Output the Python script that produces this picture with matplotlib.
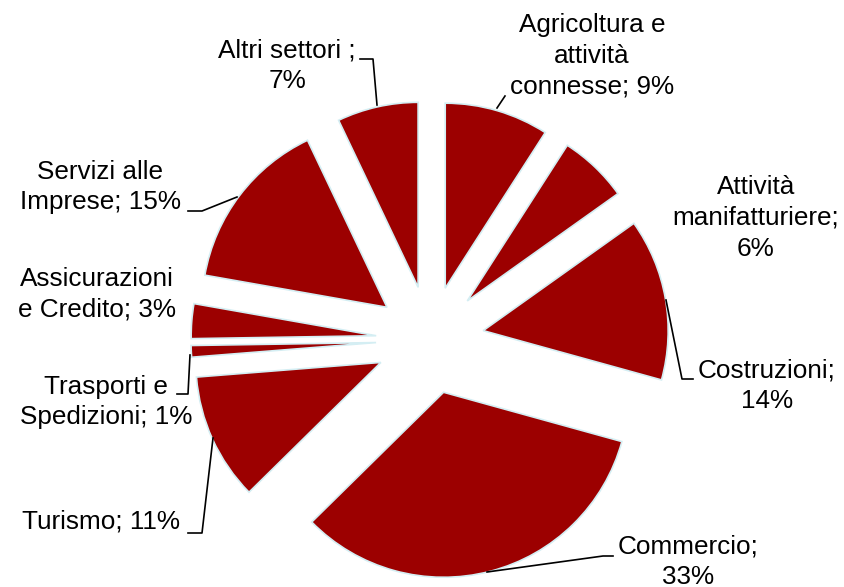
import matplotlib
matplotlib.use("Agg")
import matplotlib.pyplot as plt

# ---- data ----
categories = ["Agricoltura e attività connesse", "Attività manifatturiere",
              "Costruzioni", "Commercio", "Turismo", "Trasporti e Spedizioni",
              "Assicurazioni e Credito", "Servizi alle Imprese", "Altri settori"]
values = [9, 6, 14, 33, 11, 1, 3, 15, 7]
label_names = ["Agricoltura e\nattività\nconnesse", "Attività\nmanifatturiere",
               "Costruzioni", "Commercio", "Turismo", "Trasporti e\nSpedizioni",
               "Assicurazioni\ne Credito", "Servizi alle\nImprese", "Altri settori"]
label_seps = ["; ", ";\n", ";\n", ";\n", "; ", "; ", "; ", "; ", " ;\n"]

# ---- layout (pixel coordinates, y downward) ----
W, H = 844, 587
CX, CY, R = 430, 340, 185
EXPLODE_PX = 54
label_pos = [(592, 56), (756, 218), (767, 386), (688, 562), (101, 522),
             (106, 402), (97, 294), (100, 187), (287, 66)]
leaders = [
    [(497, 108), (505, 96)],
    None,
    [(666, 300), (682, 379), (693, 379)],
    [(487, 572), (603, 556), (613, 556)],
    [(213, 438), (202, 533), (188, 533)],
    [(190, 355), (188, 394), (177, 394)],
    None,
    [(237, 197), (202, 211), (188, 211)],
    [(377, 105), (373, 59), (360, 59)],
]

def fy(y):
    return H - y

fig = plt.figure(figsize=(W / 100, H / 100), dpi=100)
ax = fig.add_axes([0, 0, 1, 1])

ax.pie(values, explode=[EXPLODE_PX] * len(values), startangle=90, counterclock=False,
       center=(CX, fy(CY)), radius=R, colors=["#9C0000"] * len(values),
       wedgeprops=dict(edgecolor="#D4EEF3", linewidth=1.2), frame=True)
ax.set_xlim(0, W)
ax.set_ylim(0, H)
ax.set_aspect("equal")
ax.axis("off")

for name, sep, v, (x, y), ld in zip(label_names, label_seps, values, label_pos, leaders):
    ax.text(x, fy(y), f"{name}{sep}{v}%", ha="center", va="center",
            fontsize=18.8, family=["Liberation Sans", "DejaVu Sans"],
            linespacing=1.35, color="black")
    if ld:
        ax.plot([p[0] for p in ld], [fy(p[1]) for p in ld], color="black", lw=1.2)

fig.savefig("out.png", dpi=100)
